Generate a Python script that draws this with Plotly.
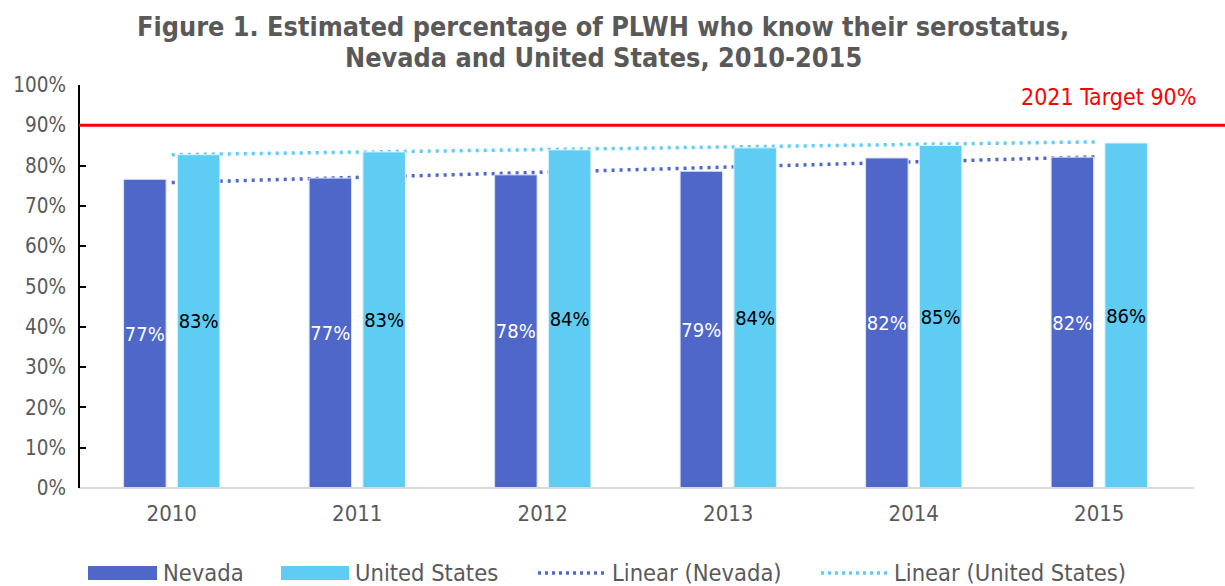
import plotly.graph_objects as go

years = ["2010", "2011", "2012", "2013", "2014", "2015"]
nevada = [76.6, 76.9, 77.7, 78.6, 81.9, 82.1]
united_states = [82.7, 83.4, 83.9, 84.4, 85.0, 85.6]
trend_years = ["2010", "2015"]
trend_nevada = [75.8, 82.2]
trend_us = [82.7, 85.9]
target_value = 90
y_ticks = [0, 10, 20, 30, 40, 50, 60, 70, 80, 90, 100]
y_tick_labels = [f"{v}%" for v in y_ticks]
title_lines = ["Figure 1. Estimated percentage of PLWH who know their serostatus,",
               "Nevada and United States, 2010-2015"]

NV_COLOR = "#4F67C8"
US_COLOR = "#5ECCF3"
GREY = "#595959"
FONT = "Liberation Sans Narrow, DejaVu Sans Condensed, sans-serif"

W, H = 1225, 586
L, R, T, B = 79, 33, 85, 98
PW, PH = W - L - R, H - T - B


def px(x):
    return (x - L) / PW


def py(y):
    return (H - B - y) / PH


fig = go.Figure()

fig.add_trace(go.Scatter(x=trend_years, y=trend_nevada, mode="lines",
                         line=dict(color=NV_COLOR, width=3.5, dash="3px,5px"),
                         zorder=0, showlegend=False, hoverinfo="skip"))
fig.add_trace(go.Scatter(x=trend_years, y=trend_us, mode="lines",
                         line=dict(color=US_COLOR, width=3.5, dash="3px,5px"),
                         zorder=0, showlegend=False, hoverinfo="skip"))

fig.add_trace(go.Bar(x=years, y=nevada, name="Nevada", marker_color=NV_COLOR,
                     marker_line=dict(color="#DDE3F5", width=1),
                     texttemplate="%{y:.0f}%", textposition="inside",
                     insidetextanchor="middle", textangle=0, constraintext="none",
                     textfont=dict(family=FONT, size=20, color="white"),
                     zorder=1, showlegend=False))
fig.add_trace(go.Bar(x=years, y=united_states, name="United States", marker_color=US_COLOR,
                     marker_line=dict(color="#DDF3FB", width=1),
                     texttemplate="%{y:.0f}%", textposition="inside",
                     insidetextanchor="middle", textangle=0, constraintext="none",
                     textfont=dict(family=FONT, size=20, color="black"),
                     zorder=1, showlegend=False))

shapes = [
    # axis lines
    dict(type="line", xref="paper", yref="paper", x0=0, x1=px(1194), y0=0, y1=0,
         line=dict(color="#D9D9D9", width=2), layer="above"),
    dict(type="line", xref="paper", yref="paper", x0=0, x1=0, y0=0, y1=1,
         line=dict(color="black", width=2), layer="above"),
    # target line
    dict(type="line", xref="paper", yref="y", x0=0, x1=px(W + 2), y0=target_value, y1=target_value,
         line=dict(color="#FF0000", width=3), layer="above"),
]
annotations = [
    dict(text="2021 Target 90%", xref="paper", yref="paper", x=px(1198), y=py(97),
         xanchor="right", yanchor="middle", showarrow=False,
         font=dict(family=FONT, size=23, color="#FF0000")),
]
for line_text, yc in zip(title_lines, [26, 58]):
    annotations.append(dict(text=f"<b>{line_text}</b>", xref="paper", yref="paper",
                            x=px(603), y=py(yc), xanchor="center", yanchor="middle",
                            showarrow=False, font=dict(family=FONT, size=26.8, color=GREY)))

# custom legend
legend_items = [
    ("Nevada", "rect", NV_COLOR, 88, 157),
    ("United States", "rect", US_COLOR, 281, 349),
    ("Linear (Nevada)", "line", NV_COLOR, 538, 606),
    ("Linear (United States)", "line", US_COLOR, 821, 888),
]
ly = 573
for label, kind, color, x0, x1 in legend_items:
    if kind == "rect":
        shapes.append(dict(type="rect", xref="paper", yref="paper", x0=px(x0), x1=px(x1),
                           y0=py(ly + 7), y1=py(ly - 7), fillcolor=color, line=dict(width=0)))
    else:
        shapes.append(dict(type="line", xref="paper", yref="paper", x0=px(x0), x1=px(x1),
                           y0=py(ly), y1=py(ly), line=dict(color=color, width=3.5, dash="3px,4px")))
    annotations.append(dict(text=label, xref="paper", yref="paper", x=px(x1 + 4), y=py(ly),
                            xanchor="left", yanchor="middle", showarrow=False,
                            font=dict(family=FONT, size=23.5, color=GREY)))

fig.update_layout(
    template="none",
    width=W, height=H,
    margin=dict(l=L, r=R, t=T, b=B, autoexpand=False),
    paper_bgcolor="white", plot_bgcolor="white",
    barmode="group", bargap=0.42, bargroupgap=0.21,
    shapes=shapes, annotations=annotations,
    showlegend=False,
    xaxis=dict(type="category", categoryorder="array", categoryarray=years, automargin=False,
               showline=False, showgrid=False, ticks="",
               tickfont=dict(family=FONT, size=22, color=GREY), ticklabelstandoff=10),
    yaxis=dict(range=[0, 100], tickvals=y_ticks, ticktext=y_tick_labels, showgrid=False,
               automargin=False, showline=False, ticks="inside", ticklen=7,
               tickcolor="black", tickwidth=2, zeroline=False,
               tickfont=dict(family=FONT, size=20.5, color=GREY), ticklabelstandoff=12),
)

fig.write_html("out.html", config={"displayModeBar": False},
               post_script="document.body.style.margin='0';document.body.style.overflow='hidden';")
